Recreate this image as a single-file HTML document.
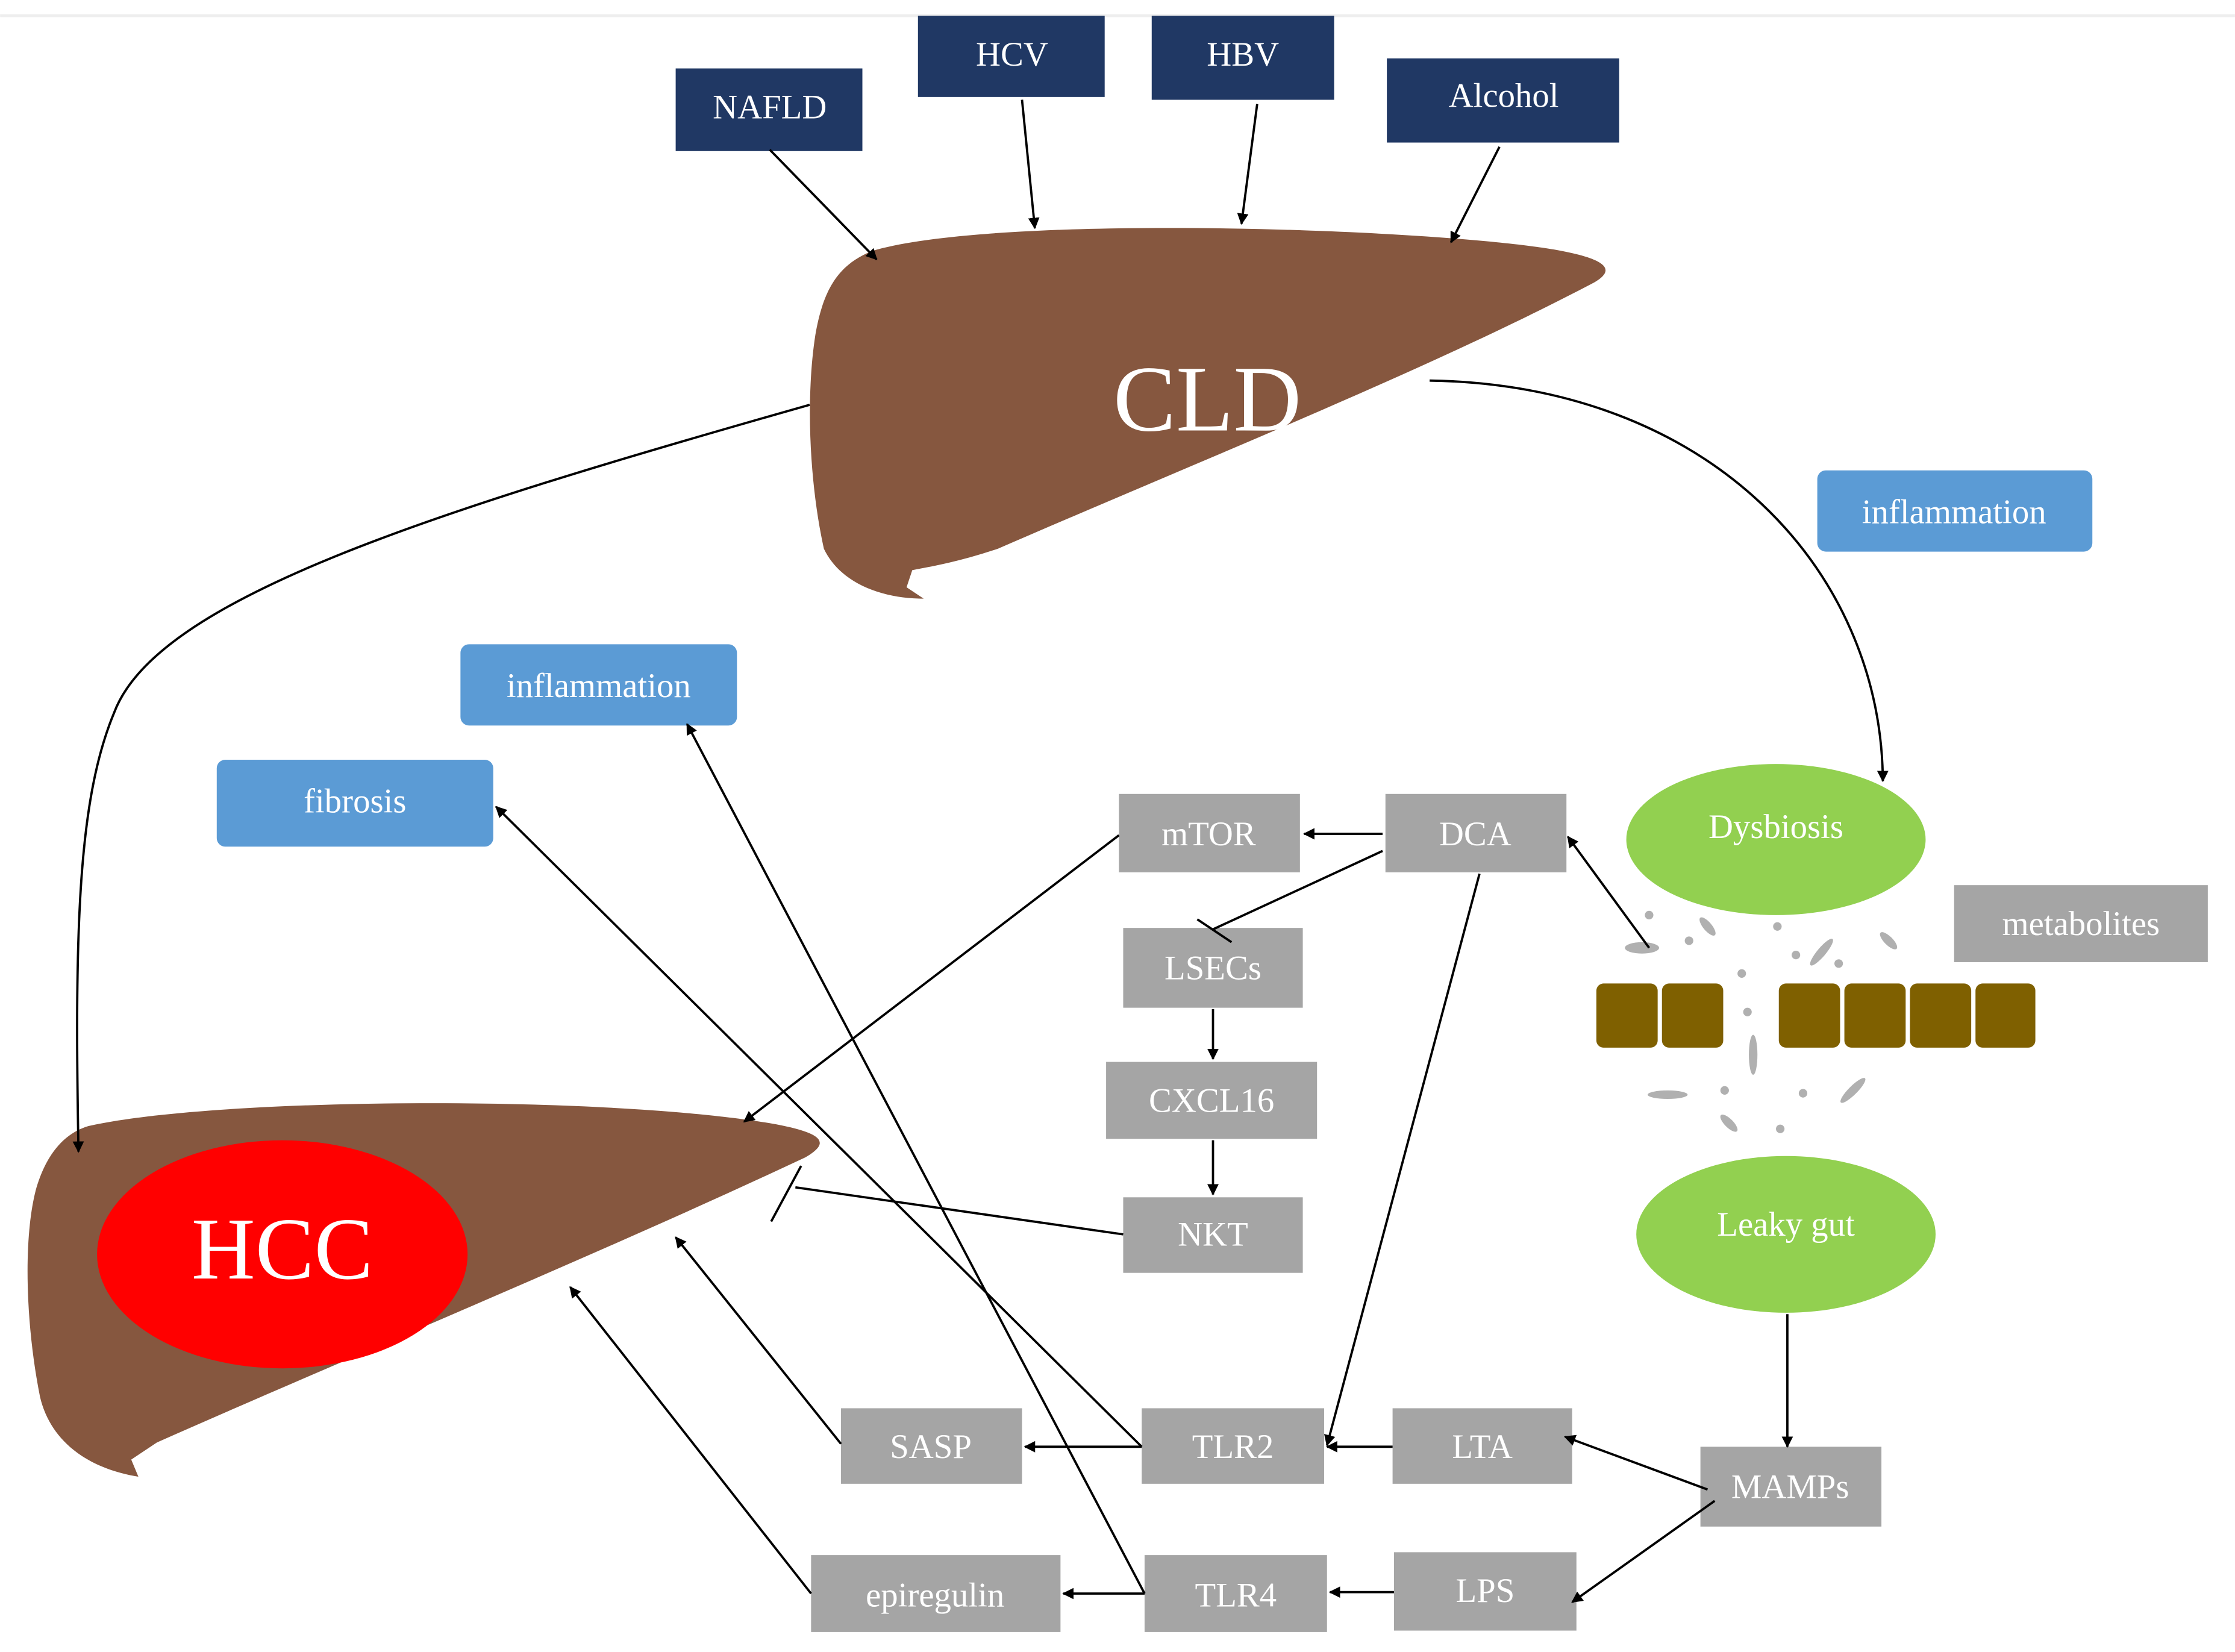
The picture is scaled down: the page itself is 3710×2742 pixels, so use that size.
<!DOCTYPE html>
<html><head><meta charset="utf-8"><style>
html,body{margin:0;padding:0;background:#fff;}
svg{display:block;}
text{font-family:"Liberation Serif",serif;}
</style></head><body>
<svg width="3710" height="2742" viewBox="0 0 1568 1159" xmlns="http://www.w3.org/2000/svg">
<defs>
<marker id="a" viewBox="0 0 10 10" refX="9" refY="5" markerWidth="5" markerHeight="5" orient="auto-start-reverse"><path d="M0,0 L10,5 L0,10 z" fill="#000"/></marker>
</defs>
<rect width="1568" height="1159" fill="#fff"/>
<line x1="0" y1="11" x2="1568" y2="11" stroke="#eee" stroke-width="2"/>

<!-- CLD liver -->
<path d="M612,176 C700,150 1000,160 1090,175 C1130,182 1135,190 1115,200 C1000,260 850,320 700,385 C670,395 650,398 640,400 L636,412 L648,420 C620,420 590,410 578,385 C568,340 565,280 572,235 C578,200 590,185 612,176 Z" fill="#86573f"/>
<text x="847" y="302" font-size="66" fill="#fff" text-anchor="middle">CLD</text>

<!-- HCC liver -->
<path d="M62,790 C150,770 420,768 540,788 C580,795 582,802 565,812 C420,880 250,950 110,1012 L92,1024 L97,1036 C60,1030 35,1010 28,980 C18,930 16,870 25,835 C32,810 45,795 62,790 Z" fill="#86573f"/>
<ellipse cx="198" cy="880" rx="130" ry="80" fill="#ff0000"/>
<text x="198" y="897" font-size="62" fill="#fff" text-anchor="middle">HCC</text>

<!-- dark boxes -->
<g fill="#203864">
<rect x="474" y="48" width="131" height="58"/>
<rect x="644" y="11" width="131" height="57"/>
<rect x="808" y="11" width="128" height="59"/>
<rect x="973" y="41" width="163" height="59"/>
</g>
<g fill="#fff" font-size="24" text-anchor="middle">
<text x="540" y="83">NAFLD</text>
<text x="710" y="46">HCV</text>
<text x="872" y="46">HBV</text>
<text x="1055" y="75">Alcohol</text>
</g>

<!-- blue boxes -->
<g fill="#5b9bd5">
<rect x="1275" y="330" width="193" height="57" rx="6"/>
<rect x="323" y="452" width="194" height="57" rx="6"/>
<rect x="152" y="533" width="194" height="61" rx="6"/>
</g>
<g fill="#fff" font-size="24" text-anchor="middle">
<text x="1371" y="367">inflammation</text>
<text x="420" y="489">inflammation</text>
<text x="249" y="570">fibrosis</text>
</g>

<!-- gray boxes -->
<g fill="#a5a5a5">
<rect x="785" y="557" width="127" height="55"/>
<rect x="972" y="557" width="127" height="55"/>
<rect x="788" y="651" width="126" height="56"/>
<rect x="776" y="745" width="148" height="54"/>
<rect x="788" y="840" width="126" height="53"/>
<rect x="1371" y="621" width="178" height="54"/>
<rect x="590" y="988" width="127" height="53"/>
<rect x="801" y="988" width="128" height="53"/>
<rect x="977" y="988" width="126" height="53"/>
<rect x="1193" y="1015" width="127" height="56"/>
<rect x="569" y="1091" width="175" height="54"/>
<rect x="803" y="1091" width="128" height="54"/>
<rect x="978" y="1089" width="128" height="55"/>
</g>
<g fill="#fff" font-size="24" text-anchor="middle">
<text x="848" y="593">mTOR</text>
<text x="1035" y="593">DCA</text>
<text x="851" y="687">LSECs</text>
<text x="850" y="780">CXCL16</text>
<text x="851" y="874">NKT</text>
<text x="1460" y="656">metabolites</text>
<text x="653" y="1023">SASP</text>
<text x="865" y="1023">TLR2</text>
<text x="1040" y="1023">LTA</text>
<text x="1256" y="1051">MAMPs</text>
<text x="656" y="1127">epiregulin</text>
<text x="867" y="1127">TLR4</text>
<text x="1042" y="1124">LPS</text>
</g>

<!-- green ellipses -->
<ellipse cx="1246" cy="589" rx="105" ry="53" fill="#92d050"/>
<ellipse cx="1253" cy="866" rx="105" ry="55" fill="#92d050"/>
<g fill="#fff" font-size="24" text-anchor="middle">
<text x="1246" y="588">Dysbiosis</text>
<text x="1253" y="867">Leaky gut</text>
</g>

<!-- gut cells -->
<g fill="#7f6000">
<rect x="1120" y="690" width="43" height="45" rx="5"/>
<rect x="1166" y="690" width="43" height="45" rx="5"/>
<rect x="1248" y="690" width="43" height="45" rx="5"/>
<rect x="1294" y="690" width="43" height="45" rx="5"/>
<rect x="1340" y="690" width="43" height="45" rx="5"/>
<rect x="1386" y="690" width="42" height="45" rx="5"/>
</g>
<!-- particles -->
<g fill="#b0b0b0">
<ellipse cx="1152" cy="665" rx="12" ry="4"/>
<ellipse cx="1157" cy="642" rx="3" ry="3"/>
<ellipse cx="1185" cy="660" rx="3" ry="3"/>
<ellipse cx="1198" cy="650" rx="8" ry="3" transform="rotate(50 1198 650)"/>
<ellipse cx="1222" cy="683" rx="3" ry="3"/>
<ellipse cx="1226" cy="710" rx="3" ry="3"/>
<ellipse cx="1230" cy="740" rx="3" ry="14"/>
<ellipse cx="1247" cy="650" rx="3" ry="3"/>
<ellipse cx="1260" cy="670" rx="3" ry="3"/>
<ellipse cx="1278" cy="668" rx="12" ry="3" transform="rotate(-50 1278 668)"/>
<ellipse cx="1290" cy="676" rx="3" ry="3"/>
<ellipse cx="1325" cy="660" rx="8" ry="3" transform="rotate(45 1325 660)"/>
<ellipse cx="1170" cy="768" rx="14" ry="3"/>
<ellipse cx="1210" cy="765" rx="3" ry="3"/>
<ellipse cx="1213" cy="788" rx="8" ry="3" transform="rotate(45 1213 788)"/>
<ellipse cx="1249" cy="792" rx="3" ry="3"/>
<ellipse cx="1265" cy="767" rx="3" ry="3"/>
<ellipse cx="1300" cy="765" rx="12" ry="3" transform="rotate(-45 1300 765)"/>
</g>

<!-- arrows -->
<g stroke="#000" stroke-width="1.6" fill="none" marker-end="url(#a)">
<line x1="540" y1="105" x2="615" y2="182"/>
<line x1="717" y1="70" x2="726" y2="160"/>
<line x1="882" y1="73" x2="871" y2="157"/>
<line x1="1052" y1="103" x2="1018" y2="170"/>
<path d="M1003,267 C1200,270 1320,400 1321,548"/>
<path d="M568,284 C300,360 110,420 80,500 C55,560 52,650 55,808"/>
<line x1="785" y1="586" x2="522" y2="787"/>
<line x1="970" y1="585" x2="915" y2="585"/>
<line x1="851" y1="708" x2="851" y2="743"/>
<line x1="851" y1="800" x2="851" y2="838"/>
<line x1="1038" y1="613" x2="931" y2="1014"/>
<line x1="1157" y1="665" x2="1100" y2="587"/>
<line x1="801" y1="1015" x2="348" y2="566"/>
<line x1="801" y1="1015" x2="719" y2="1015"/>
<line x1="977" y1="1015" x2="931" y2="1015"/>
<line x1="803" y1="1118" x2="482" y2="508"/>
<line x1="803" y1="1118" x2="746" y2="1118"/>
<line x1="978" y1="1117" x2="933" y2="1117"/>
<line x1="590" y1="1013" x2="474" y2="868"/>
<line x1="569" y1="1118" x2="400" y2="903"/>
<line x1="1254" y1="922" x2="1254" y2="1015"/>
<line x1="1198" y1="1045" x2="1098" y2="1008"/>
<line x1="1203" y1="1053" x2="1103" y2="1124"/>
</g>
<!-- inhibitory lines -->
<g stroke="#000" stroke-width="1.6" fill="none">
<line x1="970" y1="597" x2="851" y2="652"/>
<line x1="840" y1="645" x2="864" y2="661"/>
<line x1="788" y1="866" x2="558" y2="833"/>
<line x1="541" y1="857" x2="562" y2="818"/>
</g>
</svg>
</body></html>
